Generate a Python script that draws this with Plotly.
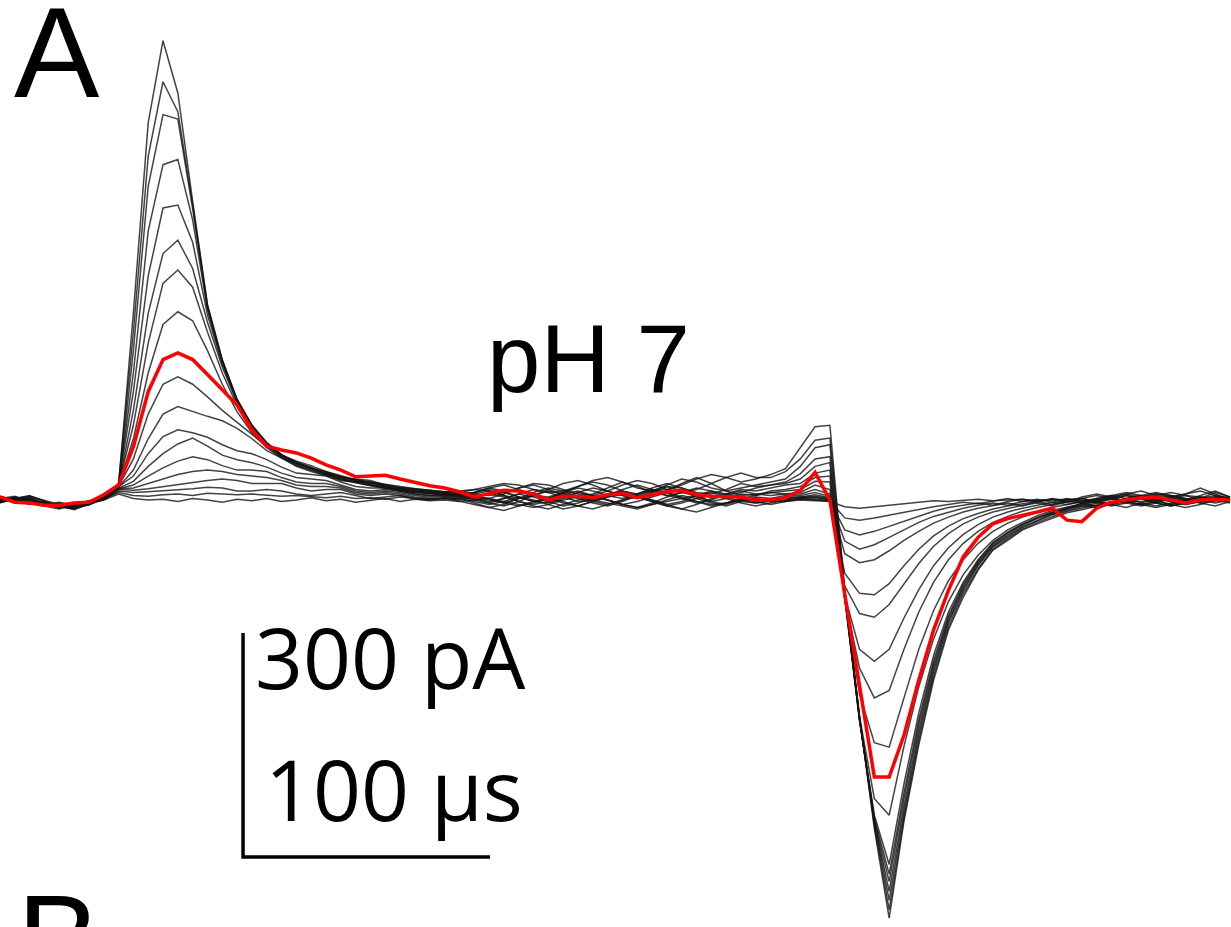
import numpy as np
import plotly.graph_objects as go

# Gating-current family at pH 7: ON transient (~60 us) and OFF transient (~340 us).
# Sampling interval of the digitised records (microseconds).
SAMPLE_US = 6

# Current traces in pA, one per voltage step, largest first.
trace_01 = [2, 5, -3, -6, -9, -8, -4, 3,
            20,
            250, 505, 615, 545, 400, 262, 188, 134, 100, 76, 60, 51, 43, 38, 32, 27, 23, 20, 17, 15, 13, 11,
            12, 14, 18, 22, 20, 14, 10, 12, 18, 26, 30, 24, 16, 12, 14, 20, 28, 34, 30, 24, 28, 34, 42,
            70, 98, 100,
            -120, -290, -440, -560, -430, -328, -241, -174, -130, -94, -67, -54, -40, -32, -24, -17,
            -13, -8, -4, 0, 4, 8, 6, 2, -2, 0, 2]
trace_02 = [-2, 4, 1, -5, -11, -7, -2, 5,
            22,
            225, 460, 560, 520, 395, 260, 187, 133, 98, 75, 60, 50, 42, 36, 31, 27, 24, 20, 17, 15, 13, 11,
            12, 8, 6, 10, 16, 22, 20, 14, 8, 6, 12, 20, 26, 22, 14, 10, 14, 22, 30, 36, 30, 30, 38,
            55, 80, 83,
            -122, -290, -435, -549, -425, -322, -236, -170, -126, -92, -66, -52, -39, -30, -22, -15,
            -11, -6, -2, -4, -8, -4, 2, 6, 4, 0, -2]
trace_03 = [3, 0, -4, -8, -6, -10, -3, 2,
            18,
            200, 420, 516, 510, 390, 258, 186, 135, 100, 77, 61, 50, 43, 37, 31, 27, 23, 19, 16, 14, 12, 10,
            8, 10, 16, 20, 14, 6, 4, 10, 18, 24, 20, 12, 8, 12, 20, 28, 24, 16, 12, 16, 20, 24, 28,
            45, 70, 74,
            -124, -292, -432, -536, -418, -315, -230, -165, -122, -88, -63, -50, -37, -28, -20, -14,
            -9, -4, 2, 6, 2, -4, -8, -4, 2, 6, 3]
trace_04 = [-4, 2, 6, -2, -9, -12, -6, 1,
            20,
            170, 360, 449, 456, 375, 255, 185, 134, 100, 76, 60, 49, 42, 35, 30, 26, 22, 18, 15, 13, 11, 9,
            10, 14, 12, 6, 2, 6, 14, 22, 26, 20, 12, 6, 4, 10, 18, 16, 10, 8, 14, 22, 18, 20, 24,
            35, 55, 58,
            -126, -293, -430, -524, -410, -308, -225, -162, -119, -86, -62, -48, -36, -27, -19, -12,
            -8, -10, -6, 0, 4, 2, -2, -6, -2, 4, 0]
trace_05 = [1, -3, 3, -7, -5, -9, -5, 4,
            21,
            145, 300, 391, 395, 345, 248, 182, 132, 98, 75, 59, 48, 41, 35, 30, 25, 21, 17, 14, 12, 10, 8,
            8, 4, 2, 8, 16, 20, 14, 8, 4, 8, 16, 24, 18, 10, 6, 10, 16, 12, 6, 10, 16, 20, 22,
            28, 45, 50,
            -127, -294, -428, -511, -400, -300, -220, -158, -116, -84, -60, -46, -34, -25, -18, -12,
            -4, 0, 4, 8, 4, -2, -6, -10, -6, 0, 2]
trace_06 = [-1, 3, -2, -6, -10, -7, -1, 2,
            19,
            120, 250, 330, 348, 310, 238, 178, 130, 96, 74, 58, 47, 40, 34, 29, 24, 20, 17, 14, 11, 9, 8,
            6, 10, 14, 10, 4, -2, 2, 10, 16, 12, 6, 2, 8, 16, 22, 16, 8, 4, 8, 14, 12, 16, 20,
            22, 36, 40,
            -128, -295, -425, -501, -392, -294, -215, -155, -113, -82, -58, -44, -33, -24, -17, -10,
            -6, -8, -4, 2, 6, 10, 6, 0, -4, -2, 1]
trace_07 = [4, 1, -5, -3, -8, -11, -4, 1,
            20,
            100, 210, 290, 308, 285, 225, 170, 126, 94, 72, 57, 46, 39, 33, 28, 23, 19, 16, 13, 11, 9, 7,
            5, 2, -2, 2, 8, 14, 10, 4, -2, 0, 6, 14, 20, 14, 6, 2, 6, 12, 8, 2, 6, 12, 14,
            18, 30, 32,
            -129, -295, -422, -488, -380, -285, -208, -150, -110, -80, -57, -43, -32, -23, -16, -11,
            -6, -2, 2, -2, -6, -2, 4, 8, 12, 6, 0]
trace_08 = [-3, 2, 5, -1, -6, -9, -7, 3,
            19,
            82, 170, 235, 252, 240, 200, 155, 118, 90, 70, 56, 45, 38, 32, 27, 23, 19, 15, 12, 10, 8, 7,
            6, 10, 16, 12, 4, -2, -4, 2, 10, 16, 12, 6, 2, 6, 12, 22, 30, 22, 12, 6, 8, 10, 12,
            14, 25, 24,
            -130, -290, -400, -422, -330, -250, -186, -136, -100, -74, -54, -40, -30, -21, -14, -9,
            -5, -2, 2, 6, 2, -4, -8, -4, 2, 10, 4]
trace_10 = [2, -4, 1, -8, -12, -6, -3, 4,
            18,
            55, 115, 155, 165, 155, 138, 120, 104, 88, 72, 60, 52, 46, 38, 30, 28, 26, 20, 16, 14, 12, 10,
            8, 4, 0, -4, 2, 10, 16, 12, 4, -2, -6, 0, 8, 14, 10, 2, -4, 0, 8, 12, 8, 6, 8,
            10, 20, 14,
            -131, -260, -325, -331, -265, -200, -148, -108, -80, -58, -42, -31, -23, -16, -10, -6,
            -2, 2, 6, 2, -4, -8, -4, 0, 4, 2, -1]
trace_11 = [-2, 3, -1, -4, -7, -11, -5, 1,
            17,
            40, 82, 115, 125, 118, 112, 106, 96, 82, 66, 56, 50, 44, 34, 26, 24, 24, 18, 12, 10, 10, 8,
            6, 2, -4, -8, -2, 6, 12, 8, 2, -4, -8, -2, 6, 12, 18, 12, 4, -2, 2, 8, 6, 10, 8,
            8, 14, 8,
            -132, -225, -265, -255, -200, -150, -110, -80, -58, -42, -30, -22, -15, -10, -6, -2,
            -4, -8, -4, 2, 6, 2, -2, -6, -2, 4, 3]
trace_12 = [5, 0, -6, -2, -9, -8, -2, 3,
            18,
            32, 62, 85, 94, 90, 84, 74, 66, 62, 54, 44, 36, 34, 32, 24, 18, 16, 16, 12, 8, 6, 6,
            4, 8, 12, 6, -2, -6, -2, 4, 10, 6, 0, -6, -10, -4, 4, 10, 6, -2, -6, 0, 4, 2, 6,
            6, 10, 5,
            -128, -200, -216, -200, -158, -120, -88, -64, -46, -33, -23, -16, -11, -7, -3, -6,
            -2, 2, 6, 10, 6, 0, -6, -2, 4, 0, -4]
trace_13 = [-3, 1, 4, -5, -8, -13, -6, 2,
            16,
            25, 45, 62, 75, 83, 72, 60, 54, 50, 44, 36, 30, 28, 26, 20, 14, 12, 14, 12, 8, 6, 5,
            4, 0, -4, 2, 8, 4, -2, -8, -4, 2, 8, 12, 6, 0, -6, -2, 6, 10, 4, -2, -4, 0, 4,
            4, 7, 3,
            -115, -152, -157, -140, -112, -85, -62, -45, -32, -23, -16, -11, -7, -4, -8, -2,
            0, -4, -8, -4, 2, 6, 10, 6, 0, -4, 0]
trace_14 = [1, -2, 2, -8, -5, -10, -4, 1,
            15,
            20, 32, 43, 52, 58, 54, 46, 40, 40, 38, 30, 24, 22, 22, 18, 12, 10, 12, 10, 6, 4, 4,
            2, -4, -10, -6, 2, 6, 2, -4, -8, -2, 4, 8, 4, -2, -8, -12, -6, 2, 6, 2, -2, 2, 2,
            4, 5, 2,
            -98, -125, -127, -112, -88, -66, -48, -35, -25, -18, -12, -8, -5, -2, -6, 1,
            2, 6, 2, -2, -6, -10, -6, 0, 6, 12, 4]
trace_15 = [-1, 4, 0, -4, -9, -6, -3, 2,
            15,
            16, 22, 28, 34, 38, 40, 38, 34, 32, 30, 26, 20, 18, 18, 16, 10, 8, 10, 8, 4, 2, 2,
            2, 6, 2, -4, -8, -4, 2, 8, 12, 6, 0, -6, -10, -6, 0, 6, 2, -4, -8, -2, 2, -2, 2,
            3, 4, 1,
            -72, -84, -80, -68, -54, -42, -31, -23, -16, -11, -7, -4, -8, -2, 1, -3,
            2, -2, -6, -2, 4, 8, 4, 0, -4, -8, -2]
trace_16 = [3, 0, -3, -7, -4, -8, -2, 1,
            14,
            13, 15, 18, 21, 24, 26, 28, 26, 22, 22, 22, 16, 12, 14, 14, 8, 6, 8, 6, 2, 2, 3,
            2, -2, -6, -2, 4, 0, -6, -12, -8, -2, 4, 8, 4, -2, -8, -4, 2, 6, 2, -4, -8, -4, 0,
            2, 3, 0,
            -55, -66, -60, -50, -40, -30, -22, -16, -11, -7, -4, -7, -2, 1, -3, 2,
            -4, 0, 4, 8, 12, 6, 0, -4, -2, 2, 3]
trace_17 = [-2, 2, 5, -3, -6, -10, -5, 0,
            12,
            10, 11, 12, 14, 15, 17, 16, 12, 12, 14, 12, 8, 6, 8, 10, 6, 2, 4, 6, 2, 0, 2,
            0, 4, 8, 4, -2, -8, -12, -6, 0, 4, 0, -6, -2, 4, 10, 4, -2, -8, -4, 2, -2, -6, -2,
            2, 1, -1,
            -40, -47, -42, -35, -28, -21, -15, -10, -7, -4, -7, -2, 1, -3, 2, -1,
            2, -2, -6, -10, -4, 2, 6, 2, -2, 4, 0]
trace_18 = [2, -3, 1, -5, -8, -5, -1, 2,
            10,
            6, 5, 7, 8, 6, 9, 8, 7, 8, 6, 5, 6, 4, 3, 5, 2, 3, 1, 4, 2, 0, 3,
            -2, -6, -10, -14, -8, -2, 2, -2, -8, -12, -6, 0, 4, 0, -6, -12, -16, -10, -4, 0, -4, -2, 0,
            1, 0, -1,
            -24, -27, -24, -20, -16, -12, -9, -6, -3, -5, -1, 2, -2, 0, 1, -3,
            4, 8, 4, -2, -6, -2, 4, 8, 16, 8, 0]
trace_19 = [-1, 1, -2, -6, -3, -7, -3, 0,
            8,
            2, 0, 1, -2, 2, 0, -3, 1, -1, 2, -2, 0, 3, -1, 1, -3, 0, 2, -2, 1, -1, 0,
            -2, 0, 2, -2, -6, -10, -6, 0, 4, 0, -4, -8, -12, -6, -2, 2, -2, -6, -4, 0, 2, -2, -2,
            0, -1, -2,
            -9, -11, -9, -7, -5, -3, -1, -2, 0, 1, -1, 0, 1, -1, 0, 1,
            -2, 0, 2, 0, -2, 0, 2, 0, -2, 0, 2]

# Highlighted record (drawn in red on top of the family).
trace_red = [4, -3, -4, -7, -7, -4, -3, 7,
             20,
             71, 145, 188, 197, 188, 168, 147, 127, 94, 72, 67, 63, 56, 47, 40, 31, 32, 33, 28, 23, 19, 16,
             11, 4, 9, 13, 12, 8, 0, 5, 5, 3, 7, 9, 3, 7, 11, 13, 7, 5, 5, 4, 0, 0, 3,
             13, 37, 0,
             -126, -248, -371, -371, -315, -241, -174, -121, -76, -50, -32, -25, -21, -16, -11, -27,
             -29, -11, -3, 0, 3, 4, 0, -4, 0, 1, 0]

black_traces = [trace_01, trace_02, trace_03, trace_04, trace_05, trace_06, trace_07, trace_08,
                trace_10, trace_11, trace_12, trace_13, trace_14, trace_15, trace_16, trace_17,
                trace_18, trace_19]

# Scale bar values
SCALE_PA = 300
SCALE_US = 100

W, H = 1231, 927
X_RANGE = [0, 498.4]        # us
Y_RANGE = [-571.8, 669.5]   # pA

# scale bar corner (us, pA)
BAR_X0, BAR_Y0 = 98.4, -478


def px(xp, yp):
    """pixel position -> paper coordinates"""
    return xp / W, 1 - yp / H


fig = go.Figure()

for tr in black_traces:
    t = SAMPLE_US * np.arange(len(tr))
    fig.add_trace(go.Scatter(x=t, y=tr, mode="lines",
                             line=dict(color="rgba(20,20,20,0.8)", width=1.5),
                             hoverinfo="skip"))

t = SAMPLE_US * np.arange(len(trace_red))
fig.add_trace(go.Scatter(x=t, y=trace_red, mode="lines",
                         line=dict(color="#ff0000", width=3.5),
                         hoverinfo="skip"))

# L-shaped scale bar
fig.add_trace(go.Scatter(x=[BAR_X0, BAR_X0, BAR_X0 + SCALE_US],
                         y=[BAR_Y0 + SCALE_PA, BAR_Y0, BAR_Y0],
                         mode="lines", line=dict(color="black", width=3.5),
                         hoverinfo="skip"))

annotations = []


def label(text, xp, yp, size, family, xanchor="left"):
    x, y = px(xp, yp)
    annotations.append(dict(text=text, x=x, y=y, xref="paper", yref="paper",
                            xanchor=xanchor, yanchor="middle", showarrow=False,
                            font=dict(size=size, family=family, color="black")))


label("A", 57, 52, 128, "Liberation Sans, Arial", xanchor="center")
label("pH 7", 588, 358, 96, "Liberation Sans, Arial", xanchor="center")
label(f"{SCALE_PA} pA", 253, 656, 84, "Open Sans")
label(f"{SCALE_US} \u00b5s", 263, 788, 84, "Open Sans")
label("B", 58, 938, 125, "Liberation Sans, Arial", xanchor="center")

fig.update_layout(
    width=W, height=H,
    margin=dict(l=0, r=0, t=0, b=0),
    paper_bgcolor="white", plot_bgcolor="white",
    showlegend=False,
    xaxis=dict(range=X_RANGE, visible=False, fixedrange=True),
    yaxis=dict(range=Y_RANGE, visible=False, fixedrange=True),
    annotations=annotations,
)

fig.write_html("out.html")
